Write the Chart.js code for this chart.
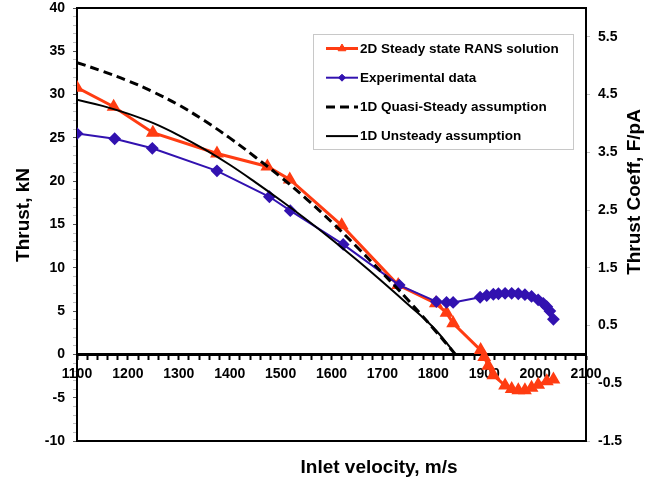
<!DOCTYPE html>
<html>
<head>
<meta charset="utf-8">
<script src="https://cdn.jsdelivr.net/npm/chart.js@4"></script>
<style>
  html, body { margin: 0; padding: 0; background: #fff; }
  #wrap { width: 660px; height: 482px; }
</style>
</head>
<body>
<div id="wrap"><canvas id="thrustChart" width="660" height="482"></canvas></div>
<script>
// values
const ransVelocity = [1100, 1172, 1249, 1375, 1474, 1518, 1620, 1731, 1805, 1826, 1839, 1893, 1900, 1908, 1918, 1941, 1954, 1967, 1980, 1993, 2006, 2023, 2036];
const ransThrust = [30.8, 28.6, 25.6, 23.2, 21.7, 20.2, 14.9, 8.0, 5.9, 4.8, 3.6, 0.5, -0.3, -1.3, -2.4, -3.6, -4.0, -4.15, -4.15, -3.85, -3.5, -3.1, -2.9];

const expVelocity = [1100, 1174, 1248, 1375, 1478, 1519, 1623, 1733, 1806, 1826, 1839, 1892, 1905, 1918, 1928, 1941, 1954, 1967, 1980, 1993, 2006, 2016, 2023, 2029, 2036];
const expThrust = [25.5, 24.9, 23.8, 21.2, 18.2, 16.6, 12.7, 8.0, 6.1, 6.0, 6.0, 6.6, 6.8, 6.95, 7.0, 7.05, 7.05, 7.0, 6.9, 6.7, 6.3, 5.9, 5.5, 5.0, 4.05];

const quasiVelocity = [1100, 1150, 1200, 1250, 1300, 1350, 1400, 1450, 1500, 1550, 1600, 1650, 1700, 1750, 1800, 1848];
const quasiThrust = [33.7, 32.7, 31.6, 30.3, 28.8, 27.0, 25.0, 22.8, 20.5, 18.0, 15.3, 12.4, 9.4, 6.3, 3.0, -0.3];

const unsteadyVelocity = [1100, 1150, 1200, 1250, 1300, 1350, 1400, 1450, 1500, 1550, 1600, 1650, 1700, 1750, 1800, 1840];
const unsteadyThrust = [29.4, 28.7, 27.8, 26.7, 25.3, 23.7, 21.9, 19.9, 17.8, 15.6, 13.3, 10.9, 8.4, 5.8, 3.1, 0.3];

const seriesLabels = ['2D Steady state RANS solution', 'Experimental data', '1D Quasi-Steady assumption', '1D Unsteady assumption'];

// tick labels
const xTicks = [1100, 1200, 1300, 1400, 1500, 1600, 1700, 1800, 1900, 2000, 2100];
const yTicks = [-10, -5, 0, 5, 10, 15, 20, 25, 30, 35, 40];
const y2Ticks = [-1.5, -0.5, 0.5, 1.5, 2.5, 3.5, 4.5, 5.5];

const FONT = '"Liberation Sans", Arial, Helvetica, sans-serif';
Chart.defaults.font.family = FONT;
Chart.defaults.color = '#000';

const pairs = (xs, ys) => xs.map((x, i) => ({ x: x, y: ys[i] }));

const tickFont = { size: 14, weight: 'bold' };

// minor tick positions (marks only, labels come from the tick arrays)
function minorTicks(min, max, step) {
  const out = [];
  for (let v = min; v <= max + 1e-9; v += step) out.push(Math.round(v * 100) / 100);
  return out;
}

// no extra room for overhanging labels, the plot box is placed by hand
function noPad(s) {
  s.paddingTop = 0;
  s.paddingBottom = 0;
  s.paddingLeft = 0;
  s.paddingRight = 0;
}

// frame around the plot area
const framePlugin = {
  id: 'frame',
  beforeDatasetsDraw(chart) {
    const { ctx, chartArea: a } = chart;
    ctx.save();
    ctx.strokeStyle = '#000';
    ctx.lineWidth = 2;
    ctx.strokeRect(a.left, a.top, a.right - a.left, a.bottom - a.top);
    ctx.restore();
  }
};

// axis titles at their spots in the original
const titlesPlugin = {
  id: 'axisTitles',
  afterDraw(chart) {
    const ctx = chart.ctx;
    ctx.save();
    ctx.fillStyle = '#000';
    ctx.font = 'bold 19px ' + FONT;
    ctx.textAlign = 'center';
    ctx.textBaseline = 'middle';
    ctx.fillText('Inlet velocity, m/s', 379, 468);

    ctx.save();
    ctx.translate(24, 215);
    ctx.rotate(-Math.PI / 2);
    ctx.fillText('Thrust, kN', 0, 0);
    ctx.restore();

    ctx.save();
    ctx.translate(635, 192);
    ctx.rotate(-Math.PI / 2);
    ctx.fillText('Thrust Coeff, F/pA', 0, 0);
    ctx.restore();
    ctx.restore();
  }
};

// boxed legend inside the plot, upper right
const boxLegend = {
  id: 'boxLegend',
  afterDraw(chart) {
    const ctx = chart.ctx;
    const box = { x: 313, y: 34, w: 260, h: 115 };
    ctx.save();
    ctx.fillStyle = '#fff';
    ctx.fillRect(box.x, box.y, box.w, box.h);
    ctx.strokeStyle = '#c8c8c8';
    ctx.lineWidth = 1;
    ctx.strokeRect(box.x + 0.5, box.y + 0.5, box.w, box.h);

    const legendOrder = [0, 1, 2, 3];
    legendOrder.forEach((di, row) => {
      const ds = chart.data.datasets[di];
      const y = 48.5 + row * 29.2;
      const x0 = 326, x1 = 358;
      ctx.save();
      ctx.strokeStyle = ds.borderColor;
      ctx.lineWidth = ds.borderWidth;
      ctx.setLineDash(ds.borderDash || []);
      ctx.beginPath();
      ctx.moveTo(x0, y);
      ctx.lineTo(x1, y);
      ctx.stroke();
      ctx.restore();
      if (ds.pointRadius > 0) {
        ctx.fillStyle = ds.pointBackgroundColor;
        ctx.strokeStyle = ds.borderColor;
        Chart.helpers.drawPoint(ctx, {
          pointStyle: ds.pointStyle, rotation: 0,
          radius: ds.legendRadius, borderWidth: 1
        }, (x0 + x1) / 2, y);
      }
      ctx.fillStyle = '#000';
      ctx.font = 'bold 13.5px ' + FONT;
      ctx.textAlign = 'left';
      ctx.textBaseline = 'middle';
      ctx.fillText(ds.label, 360, y + 0.5);
    });
    ctx.restore();
  }
};

const RED = '#ff3c12';
const BLUE = '#3212b0';

new Chart(document.getElementById('thrustChart'), {
  type: 'line',
  data: {
    datasets: [
      {
        label: seriesLabels[0],
        data: pairs(ransVelocity, ransThrust),
        borderColor: RED,
        backgroundColor: RED,
        pointBackgroundColor: RED,
        pointBorderColor: RED,
        borderWidth: 3,
        pointStyle: 'triangle',
        pointRadius: 5,
        legendRadius: 4.5,
        tension: 0,
        order: 4
      },
      {
        label: seriesLabels[1],
        data: pairs(expVelocity, expThrust),
        borderColor: BLUE,
        backgroundColor: BLUE,
        pointBackgroundColor: BLUE,
        pointBorderColor: BLUE,
        borderWidth: 2,
        pointStyle: 'rectRot',
        pointRadius: 5,
        legendRadius: 3.5,
        tension: 0,
        order: 3
      },
      {
        label: seriesLabels[2],
        data: pairs(quasiVelocity, quasiThrust),
        borderColor: '#000',
        borderWidth: 3,
        borderDash: [9, 5],
        pointRadius: 0,
        tension: 0.4,
        order: 2
      },
      {
        label: seriesLabels[3],
        data: pairs(unsteadyVelocity, unsteadyThrust),
        borderColor: '#000',
        borderWidth: 2,
        pointRadius: 0,
        tension: 0.4,
        order: 1
      }
    ]
  },
  options: {
    responsive: false,
    animation: false,
    layout: { padding: { top: 8, bottom: 41, left: 0, right: 0 } },
    plugins: {
      legend: { display: false },
      tooltip: { enabled: false }
    },
    scales: {
      x: {
        type: 'linear',
        min: 1100,
        max: 2100,
        position: { y: 0 },
        afterFit: (s) => { s.height = 0; noPad(s); },
        afterBuildTicks: (s) => { s.ticks = minorTicks(1100, 2100, 20).map(v => ({ value: v })); },
        ticks: {
          autoSkip: false,
          maxRotation: 0,
          padding: 7,
          font: tickFont,
          color: '#000',
          callback: (v) => xTicks.includes(v) ? String(v) : ''
        },
        grid: { drawOnChartArea: false, tickLength: 4, tickWidth: 2, tickColor: '#000' },
        border: { color: '#000', width: 3 }
      },
      y: {
        type: 'linear',
        position: 'left',
        min: -10,
        max: 40,
        afterFit: (s) => { s.width = 77; noPad(s); },
        afterBuildTicks: (s) => { s.ticks = minorTicks(-10, 40, 1).map(v => ({ value: v })); },
        ticks: {
          autoSkip: false,
          padding: 8,
          font: tickFont,
          color: '#000',
          callback: (v) => yTicks.includes(v) ? String(v) : ''
        },
        grid: {
          drawOnChartArea: false,
          tickLength: 4,
          tickColor: (c) => (c.tick && yTicks.includes(c.tick.value)) ? '#555' : '#c0c0c0'
        },
        border: { color: '#000', width: 2 }
      },
      y2: {
        type: 'linear',
        position: 'right',
        min: -1.5,
        max: 6,
        afterFit: (s) => { s.width = 74; noPad(s); },
        afterBuildTicks: (s) => { s.ticks = y2Ticks.map(v => ({ value: v })); },
        ticks: {
          autoSkip: false,
          padding: 8,
          font: tickFont,
          color: '#000',
          callback: (v) => String(v)
        },
        grid: { drawOnChartArea: false, tickLength: 4, tickColor: '#c0c0c0' },
        border: { color: '#000', width: 2 }
      }
    }
  },
  plugins: [framePlugin, titlesPlugin, boxLegend]
});
</script>
</body>
</html>
